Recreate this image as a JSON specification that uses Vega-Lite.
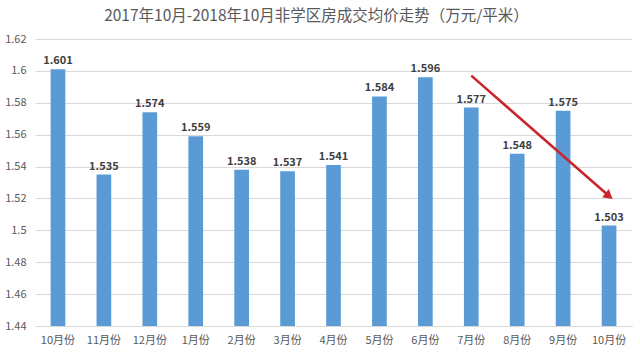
{
  "$schema": "https://vega.github.io/schema/vega-lite/v6.json",
  "width": 597,
  "height": 287,
  "autosize": "none",
  "padding": {"left": 35, "top": 39, "right": 8, "bottom": 28},
  "background": "white",
  "config": {
    "view": {"stroke": null},
    "font": "Noto Sans CJK SC"
  },
  "title": {
    "text": "2017年10月-2018年10月非学区房成交均价走势（万元/平米）",
    "fontSize": 15.5,
    "fontWeight": "normal",
    "color": "#595959",
    "font": "Noto Sans CJK SC",
    "anchor": "middle",
    "dx": -17,
    "offset": 9
  },
  "datasets": {
    "bars": [
      {"month": "2017-10", "price": 1.601},
      {"month": "2017-11", "price": 1.535},
      {"month": "2017-12", "price": 1.574},
      {"month": "2018-01", "price": 1.559},
      {"month": "2018-02", "price": 1.538},
      {"month": "2018-03", "price": 1.537},
      {"month": "2018-04", "price": 1.541},
      {"month": "2018-05", "price": 1.584},
      {"month": "2018-06", "price": 1.596},
      {"month": "2018-07", "price": 1.577},
      {"month": "2018-08", "price": 1.548},
      {"month": "2018-09", "price": 1.575},
      {"month": "2018-10", "price": 1.503}
    ],
    "arrow": [
      {"month": "2018-07", "to": "2018-10", "price": 1.597, "y2": 1.5215}
    ]
  },
  "encoding": {
    "x": {
      "field": "month",
      "type": "nominal",
      "sort": null,
      "scale": {"paddingInner": 0.68, "paddingOuter": 0.34},
      "axis": {
        "title": null,
        "labelAngle": 0,
        "labelExpr": "(+slice(datum.value, 5)) + '月份'",
        "labelFontSize": 11,
        "labelColor": "#595959",
        "labelPadding": 8,
        "ticks": false,
        "tickSize": 0,
        "domainColor": "#D9D9D9",
        "domainWidth": 1
      }
    },
    "y": {
      "field": "price",
      "type": "quantitative",
      "scale": {"domain": [1.44, 1.62], "zero": false, "nice": false},
      "axis": {
        "title": null,
        "values": [1.44, 1.46, 1.48, 1.5, 1.52, 1.54, 1.56, 1.58, 1.6, 1.62],
        "labelExpr": "toString(round(datum.value * 100) / 100)",
        "labelOverlap": false,
        "labelFontSize": 11,
        "labelColor": "#595959",
        "labelPadding": 9,
        "ticks": false,
        "tickSize": 0,
        "domain": false,
        "grid": true,
        "gridColor": "#D9D9D9",
        "gridWidth": 1
      }
    }
  },
  "layer": [
    {
      "data": {"name": "bars"},
      "mark": {"type": "bar", "color": "#5B9BD5"},
      "encoding": {
        "y2": {"datum": 1.44}
      }
    },
    {
      "data": {"name": "bars"},
      "mark": {
        "type": "text",
        "baseline": "bottom",
        "dy": -3,
        "fontSize": 11,
        "fontWeight": "bold",
        "color": "#404040"
      },
      "encoding": {
        "text": {"field": "price", "type": "quantitative", "format": ".3f"}
      }
    },
    {
      "data": {"name": "arrow"},
      "mark": {"type": "rule", "color": "#C8262C", "strokeWidth": 2.5},
      "encoding": {
        "x2": {"field": "to"},
        "y2": {"field": "y2"}
      }
    },
    {
      "data": {"name": "arrow"},
      "mark": {
        "type": "point",
        "shape": "triangle-right",
        "filled": true,
        "opacity": 1,
        "color": "#C8262C",
        "size": 110,
        "angle": 39
      },
      "encoding": {
        "x": {"field": "to", "type": "nominal", "sort": null},
        "y": {"field": "y2", "type": "quantitative"}
      }
    }
  ]
}
